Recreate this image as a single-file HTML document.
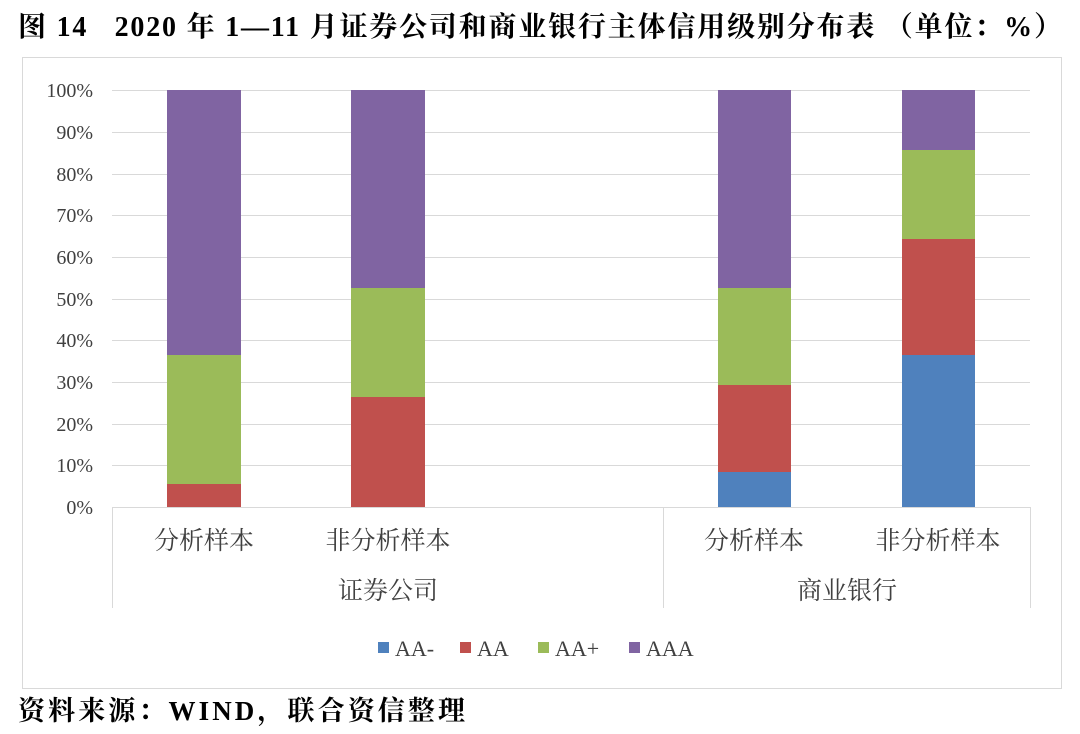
<!DOCTYPE html>
<html><head><meta charset="utf-8"><style>
body{margin:0;background:#fff;}
svg text{font-family:"Liberation Serif","Noto Serif CJK SC","Noto Sans CJK SC",serif;white-space:pre;}
</style></head><body>
<svg width="1080" height="729" xmlns="http://www.w3.org/2000/svg">
<text x="18" y="36" font-size="28" font-weight="bold" fill="#000" textLength="1044" lengthAdjust="spacing" xml:space="preserve">图 14   2020 年 1—11 月证券公司和商业银行主体信用级别分布表 （单位：%）</text>
<rect x="22.5" y="57.5" width="1039" height="631" fill="none" stroke="#d9d9d9"/>
<g stroke="#d9d9d9" stroke-width="1">
<line x1="112" y1="90.5" x2="1030" y2="90.5"/><line x1="112" y1="132.5" x2="1030" y2="132.5"/>
<line x1="112" y1="174.5" x2="1030" y2="174.5"/><line x1="112" y1="215.5" x2="1030" y2="215.5"/>
<line x1="112" y1="257.5" x2="1030" y2="257.5"/><line x1="112" y1="299.5" x2="1030" y2="299.5"/>
<line x1="112" y1="340.5" x2="1030" y2="340.5"/><line x1="112" y1="382.5" x2="1030" y2="382.5"/>
<line x1="112" y1="424.5" x2="1030" y2="424.5"/><line x1="112" y1="465.5" x2="1030" y2="465.5"/>
<line x1="112" y1="507.5" x2="1030" y2="507.5"/>
<line x1="112.5" y1="507" x2="112.5" y2="608"/><line x1="663.5" y1="507" x2="663.5" y2="608"/><line x1="1030.5" y1="507" x2="1030.5" y2="608"/>
</g>
<g font-size="20" fill="#404040" text-anchor="end">
<text x="93" y="97">100%</text><text x="93" y="139">90%</text><text x="93" y="181">80%</text><text x="93" y="222">70%</text><text x="93" y="264">60%</text><text x="93" y="306">50%</text><text x="93" y="347">40%</text><text x="93" y="389">30%</text><text x="93" y="431">20%</text><text x="93" y="472">10%</text><text x="93" y="514">0%</text>
</g>
<rect x="167" y="484" width="74" height="23" fill="#C0504D"/>
<rect x="167" y="355" width="74" height="129" fill="#9BBB59"/>
<rect x="167" y="90" width="74" height="265" fill="#8064A2"/>
<rect x="351" y="397" width="74" height="110" fill="#C0504D"/>
<rect x="351" y="288" width="74" height="109" fill="#9BBB59"/>
<rect x="351" y="90" width="74" height="198" fill="#8064A2"/>
<rect x="718" y="472" width="73" height="35" fill="#4F81BD"/>
<rect x="718" y="385" width="73" height="87" fill="#C0504D"/>
<rect x="718" y="288" width="73" height="97" fill="#9BBB59"/>
<rect x="718" y="90" width="73" height="198" fill="#8064A2"/>
<rect x="902" y="355" width="73" height="152" fill="#4F81BD"/>
<rect x="902" y="239" width="73" height="116" fill="#C0504D"/>
<rect x="902" y="150" width="73" height="89" fill="#9BBB59"/>
<rect x="902" y="90" width="73" height="60" fill="#8064A2"/>
<g font-size="25" fill="#404040" text-anchor="middle">
<text x="204" y="549">分析样本</text><text x="388" y="549">非分析样本</text>
<text x="754" y="549">分析样本</text><text x="938" y="549">非分析样本</text>
<text x="388" y="599">证券公司</text><text x="847" y="599">商业银行</text>
</g>
<g font-size="22" fill="#404040">
<rect x="378" y="642" width="11" height="11" fill="#4F81BD"/><text x="395" y="656">AA-</text>
<rect x="460" y="642" width="11" height="11" fill="#C0504D"/><text x="477" y="656">AA</text>
<rect x="538" y="642" width="11" height="11" fill="#9BBB59"/><text x="555" y="656">AA+</text>
<rect x="629" y="642" width="11" height="11" fill="#8064A2"/><text x="646" y="656">AAA</text>
</g>
<text x="18" y="720" font-size="27" font-weight="bold" fill="#000" textLength="447" lengthAdjust="spacing">资料来源：WIND，联合资信整理</text>
</svg>
</body></html>
